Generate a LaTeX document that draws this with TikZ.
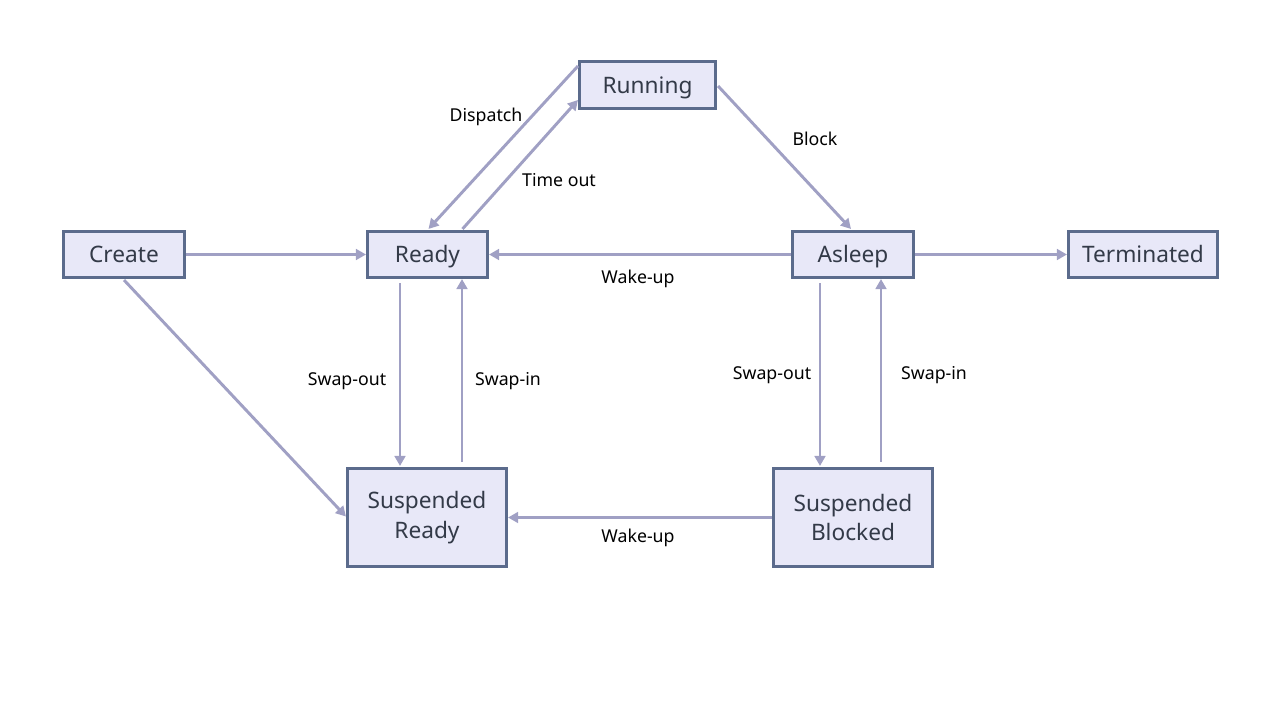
\documentclass[tikz,border=0pt]{standalone}
\usepackage{fontspec}
\setmainfont{Noto Sans}
\usetikzlibrary{arrows.meta,calc}
\definecolor{nodefill}{HTML}{E8E8F8}
\definecolor{nodeline}{HTML}{5B6B8C}
\definecolor{nodetext}{HTML}{333A48}
\definecolor{arrowcol}{HTML}{A0A0C4}
\tikzset{
  state/.style={draw=nodeline,fill=nodefill,line width=2.1pt,text=nodetext,
    font=\fontsize{17}{22}\selectfont,align=center,inner sep=0pt},
  single/.style={text height=12.6pt,text depth=0pt},
  conn/.style={draw=arrowcol,line width=2.2pt,-{Triangle[length=7.5pt,width=8pt]}},
  lbl/.style={font=\fontsize{13.3}{15}\selectfont,text=black,inner sep=0pt}
}
\begin{document}
\begin{tikzpicture}[x=0.75pt,y=-0.75pt]
\useasboundingbox[fill=white] (0,0) rectangle (1280,720);
\node[state,single,minimum width=91pt,minimum height=34.7pt] (create) at (124,254.5) {Create};
\node[state,single,minimum width=90.2pt,minimum height=34.7pt] (ready) at (427.5,254.5) {Ready};
\node[state,single,minimum width=102.2pt,minimum height=35.4pt] (running) at (647.5,85) {Running};
\node[state,single,minimum width=91pt,minimum height=34.7pt] (asleep) at (853,254.5) {Asleep};
\node[state,single,minimum width=112pt,minimum height=34.7pt] (terminated) at (1143,254.5) {Terminated};
\node[state,minimum width=119.5pt,minimum height=73.7pt] (susready) at (427,517.5) {Suspended\\Ready};
\node[state,minimum width=119.5pt,minimum height=73.7pt] (susblocked) at (853,517.5) {Suspended\\Blocked};

\draw[conn] (create.east) -- (ready.west);
\draw[conn] ($(running.west)+(0,-19)$) -- ($(ready.north)+(1,-1)$);
\draw[conn] ($(ready.north)+(35,-1)$) -- ($(running.west)+(0,15)$);
\draw[conn] ($(running.east)+(1,1)$) -- ($(asleep.north)+(-2,-1)$);
\draw[conn] (asleep.west) -- (ready.east);
\draw[conn] (asleep.east) -- (terminated.west);
\draw[conn] ($(create.south)+(0,1)$) -- ($(susready.west)+(0,-1)$);
\draw[conn] ($(ready.south)+(-27.5,4)$) -- ($(susready.north)+(-27,-1)$);
\draw[conn] ($(susready.north)+(35,-5)$) -- ($(ready.south)+(34.5,0)$);
\draw[conn] ($(asleep.south)+(-33,4)$) -- ($(susblocked.north)+(-33,-1)$);
\draw[conn] ($(susblocked.north)+(28,-5)$) -- ($(asleep.south)+(28,0)$);
\draw[conn] (susblocked.west) -- (susready.east);

\node[lbl] (ldispatch) at (486,117) {Dispatch};
\node[lbl] (ltimeout) at (559,180) {Time out};
\node[lbl] (lblock) at (815,139) {Block};
\node[lbl] (lwake1) at (638,279) {Wake-up};
\node[lbl] (lswapout1) at (347,381) {Swap-out};
\node[lbl] (lswapin1) at (508,381) {Swap-in};
\node[lbl] (lswapout2) at (772,375) {Swap-out};
\node[lbl] (lswapin2) at (934,375) {Swap-in};
\node[lbl] (lwake2) at (638,538) {Wake-up};
\end{tikzpicture}
\end{document}
